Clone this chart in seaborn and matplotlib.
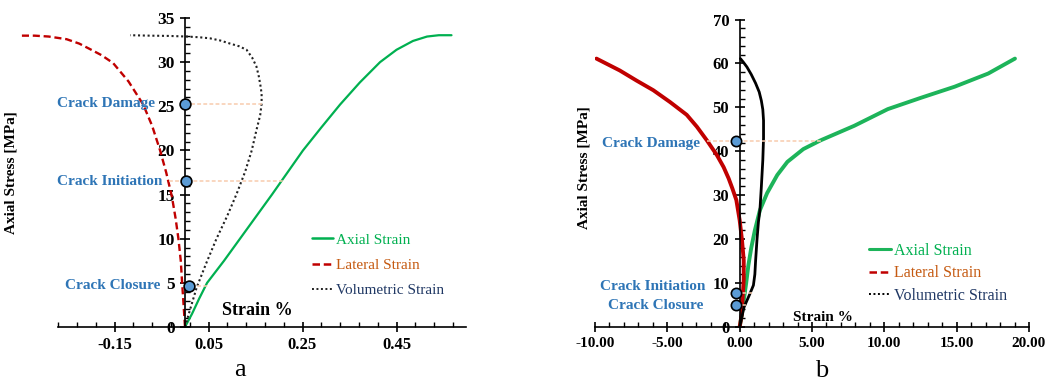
import matplotlib
matplotlib.use("Agg")
import matplotlib.pyplot as plt
from matplotlib.lines import Line2D
from matplotlib.ticker import FixedLocator, FormatStrFormatter
import numpy as np
import seaborn as sns

# ---- panel a : stress–strain curves (strain in %, stress in MPa) ----
a_axial_strain = [0, 0.015, 0.03, 0.047, 0.083, 0.117, 0.151, 0.185, 0.218, 0.251, 0.29,
                  0.33, 0.372, 0.415, 0.45, 0.485, 0.515, 0.54, 0.567]
a_axial_stress = [0, 1.5, 3.2, 5, 7.5, 10, 12.5, 15, 17.5, 20, 22.6,
                  25.2, 27.7, 30, 31.4, 32.4, 32.9, 33.05, 33.05]

a_lateral_strain = [-0.347, -0.32, -0.29, -0.252, -0.225, -0.203, -0.178, -0.153, -0.12,
                    -0.089, -0.07, -0.053, -0.04, -0.028, -0.02, -0.014, -0.009, -0.006,
                    -0.003, 0]
a_lateral_stress = [33.0, 33.0, 32.9, 32.6, 32.1, 31.5, 30.8, 29.9, 27.8,
                    25.2, 22.8, 20.0, 17.5, 14.8, 12.3, 10.0, 7.5, 4.9,
                    2.5, 0]

a_vol_strain = [0, 0.012, 0.025, 0.045, 0.067, 0.09, 0.11, 0.128, 0.142, 0.152, 0.16,
                0.163, 0.163, 0.161, 0.157, 0.152, 0.143, 0.131, 0.115, 0.096, 0.075,
                0.053, 0.03, 0.004, -0.035, -0.075, -0.117]
a_vol_stress = [0, 2.2, 4.5, 7.2, 10, 12.6, 15.1, 17.6, 20, 22.3, 24,
                25.3, 26.4, 27.2, 28.4, 29.5, 30.5, 31.4, 31.8, 32.1, 32.45,
                32.7, 32.82, 32.9, 32.97, 33.0, 33.05]

a_marker_names = ["Crack Damage", "Crack Initiation", "Crack Closure"]
a_marker_strain = [0.0, 0.002, 0.008]
a_marker_stress = [25.3, 16.5, 4.6]
a_guide_start = [0.0, -0.035, 0.0]
a_guide_end = [0.163, 0.21, 0.049]

a_xticks = [-0.15, 0.05, 0.25, 0.45]
a_yticks = [0, 5, 10, 15, 20, 25, 30, 35]

# ---- panel b ----
b_axial_strain = [0, 0.15, 0.3, 0.45, 0.6, 0.8, 1.05, 1.4, 1.9, 2.6, 3.3, 4.4, 5.6,
                  7.92, 10.24, 12.55, 14.86, 17.18, 19.03]
b_axial_stress = [0, 3, 6.5, 10, 14, 18, 22, 26.6, 30.5, 34.6, 37.6, 40.5, 42.5,
                  45.8, 49.6, 52.2, 54.7, 57.7, 61.1]

b_lateral_strain = [0, 0.15, 0.21, 0.28, 0.28, 0.16, 0, -0.23, -0.5, -0.76, -1.11, -1.57,
                    -2.27, -2.96, -3.66, -4.81, -5.97, -7.13, -8.29, -9.9]
b_lateral_stress = [0, 3, 6.9, 10.7, 15.2, 19.8, 24.3, 28.9, 31.5, 33.8, 36.4, 39.1,
                    42.5, 45.6, 48.3, 51.2, 53.9, 56.1, 58.4, 61.1]

b_vol_strain = [0, 0.1, 0.3, 0.7, 0.95, 1.05, 1.1, 1.2, 1.3, 1.4, 1.5, 1.6, 1.65,
                1.65, 1.6, 1.5, 1.35, 1.1, 0.8, 0.5, 0.25, 0.05]
b_vol_stress = [0, 1.5, 4.5, 7.5, 9.5, 12, 15, 20, 24, 26.6, 32, 38, 43,
                47, 49.5, 51.5, 53.5, 55.5, 57.5, 59.2, 60.3, 61.1]

b_marker_names = ["Crack Damage", "Crack Initiation", "Crack Closure"]
b_marker_strain = [-0.23, -0.23, -0.23]
b_marker_stress = [42.3, 7.8, 4.9]
b_guide_start = [-2.26, -0.23, -0.23]
b_guide_end = [5.6, 0.9, 0.5]

b_xticks = [-10, -5, 0, 5, 10, 15, 20]
b_yticks = [0, 10, 20, 30, 40, 50, 60, 70]

series_names = ["Axial Strain", "Lateral Strain", "Volumetric Strain"]

sns.set_theme(style="white")
plt.rcParams["font.family"] = ["Liberation Serif", "DejaVu Serif"]

GREEN = "#00B050"
RED = "#C00000"
BLUE_LBL = "#2E75B6"
MARK_FILL = "#5B9BD5"
GUIDE = "#F8CBAD"
LEG_COLORS = [GREEN, "#C55A11", "#203864"]

fig = plt.figure(figsize=(10.48, 3.81), dpi=100)
ax_a = fig.add_axes([20.5 / 1048, 54 / 381, 446.5 / 1048, 309 / 381])
ax_b = fig.add_axes([595 / 1048, 54 / 381, 434 / 1048, 307.5 / 381])


def style_axes(ax, xlim, ylim, xbounds, xticks, xminor, yticks, yminor, xfmt, xsize, ysize):
    ax.set_xlim(*xlim)
    ax.set_ylim(*ylim)
    for s in ("top", "right"):
        ax.spines[s].set_visible(False)
    ax.spines["left"].set_position(("data", 0))
    ax.spines["left"].set_bounds(ylim[0], ylim[1])
    ax.spines["bottom"].set_bounds(*xbounds)
    for s in ("left", "bottom"):
        ax.spines[s].set_color("black")
        ax.spines[s].set_linewidth(1.2)
    ax.xaxis.set_major_locator(FixedLocator(xticks))
    ax.xaxis.set_minor_locator(FixedLocator(xminor))
    ax.yaxis.set_major_locator(FixedLocator(yticks))
    ax.yaxis.set_minor_locator(FixedLocator(yminor))
    ax.xaxis.set_major_formatter(FormatStrFormatter(xfmt))
    ax.tick_params(which="major", direction="inout", length=7, width=1.2,
                   colors="black", pad=4)
    ax.tick_params(axis="x", which="major", labelsize=xsize)
    ax.tick_params(axis="y", which="major", labelsize=ysize)
    ax.tick_params(which="minor", direction="in", length=3.5, width=1.0, colors="black")
    ax.tick_params(axis="x", which="both", bottom=True)
    ax.tick_params(axis="y", which="both", left=True)
    for lbl in ax.get_xticklabels() + ax.get_yticklabels():
        lbl.set_fontweight("bold")
    ax.grid(False)
    ax.set_facecolor("white")


# ---------------- panel a ----------------
ax = ax_a
sns.lineplot(x=a_axial_strain, y=a_axial_stress, sort=False, estimator=None,
             color=GREEN, lw=1.6, ax=ax, legend=False)
sns.lineplot(x=a_lateral_strain, y=a_lateral_stress, sort=False, estimator=None,
             color=RED, lw=1.7, linestyle=(0, (3, 1.6)), ax=ax, legend=False)
sns.lineplot(x=a_vol_strain, y=a_vol_stress, sort=False, estimator=None,
             color="#222222", lw=1.5, linestyle=(0, (1, 1.3)), ax=ax, legend=False)
ax.hlines(a_marker_stress, a_guide_start, a_guide_end, colors=GUIDE,
          linestyles=(0, (2.5, 1.5)), lw=1.1, zorder=3)
sns.scatterplot(x=a_marker_strain, y=a_marker_stress, s=60, color=MARK_FILL,
                edgecolor="black", linewidth=1.2, ax=ax, zorder=6, legend=False)
style_axes(ax, (-0.35, 0.6), (0, 35), (-0.27, 0.598), a_xticks,
           np.arange(-0.27, 0.59, 0.04), a_yticks, np.arange(0, 35.1, 1), "%.2f",
           12, 12.5)

a_label_x = [-0.064, -0.049, -0.053]
a_label_y = [25.3, 16.5, 4.75]
for name, lx, ly in zip(a_marker_names, a_label_x, a_label_y):
    ax.text(lx, ly, name, ha="right", va="center", color=BLUE_LBL,
            fontsize=11, fontweight="bold", zorder=7)

ax.set_xlabel("Strain %", fontsize=13, fontweight="bold", color="black", va="center")
ax.xaxis.set_label_coords(0.53, 0.052)
ax.set_ylabel("Axial Stress [MPa]", fontsize=11, fontweight="bold", color="black")
ax.yaxis.set_label_coords(-0.006, 0.5)

handles_a = [Line2D([], [], color=GREEN, lw=1.8),
             Line2D([], [], color=RED, lw=1.8, linestyle=(0, (3, 1.5))),
             Line2D([], [], color="#222222", lw=1.4, linestyle=(0, (1, 1.3)))]
leg = ax.legend(handles_a, series_names, loc="upper left", bbox_to_anchor=(0.653, 0.304),
                frameon=False, fontsize=11, handlelength=1.4, handletextpad=0.15,
                labelspacing=0.75, borderpad=0, borderaxespad=0)
for t, c in zip(leg.get_texts(), LEG_COLORS):
    t.set_color(c)

# ---------------- panel b ----------------
ax = ax_b
sns.lineplot(x=b_axial_strain, y=b_axial_stress, sort=False, estimator=None,
             color="#1DB45A", lw=2.8, ax=ax, legend=False)
sns.lineplot(x=b_lateral_strain, y=b_lateral_stress, sort=False, estimator=None,
             color=RED, lw=2.8, ax=ax, legend=False)
sns.lineplot(x=b_vol_strain, y=b_vol_stress, sort=False, estimator=None,
             color="black", lw=2.0, ax=ax, legend=False)
ax.hlines(b_marker_stress, b_guide_start, b_guide_end, colors=GUIDE,
          linestyles=(0, (2.5, 1.5)), lw=1.1, zorder=3)
sns.scatterplot(x=b_marker_strain, y=b_marker_stress, s=55, color=MARK_FILL,
                edgecolor="black", linewidth=1.2, ax=ax, zorder=6, legend=False)
style_axes(ax, (-10, 20), (0, 70), (-10, 20), b_xticks,
           np.arange(-10, 20.1, 1), b_yticks, np.arange(0, 70.1, 2), "%.2f",
           11, 12)

b_label_x = [-2.73, -2.4, -2.5]
b_label_y = [41.8, 9.3, 4.8]
for name, lx, ly in zip(b_marker_names, b_label_x, b_label_y):
    ax.text(lx, ly, name, ha="right", va="center", color=BLUE_LBL,
            fontsize=11, fontweight="bold", zorder=7)

ax.set_xlabel("Strain %", fontsize=11, fontweight="bold", color="black", va="center")
ax.xaxis.set_label_coords(0.525, 0.03)
ax.set_ylabel("Axial Stress [MPa]", fontsize=11, fontweight="bold", color="black")
ax.yaxis.set_label_coords(-0.01, 0.517)

handles_b = [Line2D([], [], color="#1DB45A", lw=2.2),
             Line2D([], [], color=RED, lw=1.8, linestyle=(0, (3, 1.5))),
             Line2D([], [], color="black", lw=1.4, linestyle=(0, (1, 1.3)))]
leg = ax.legend(handles_b, series_names, loc="upper left", bbox_to_anchor=(0.631, 0.273),
                frameon=False, fontsize=11.5, handlelength=1.4, handletextpad=0.15,
                labelspacing=0.4, borderpad=0, borderaxespad=0)
for t, c in zip(leg.get_texts(), LEG_COLORS):
    t.set_color(c)

fig.text(0.229, 0.03, "a", fontsize=19, ha="center", va="center", color="black")
fig.text(0.784, 0.025, "b", fontsize=19, ha="center", va="center", color="black")

fig.savefig("out.png", dpi=100, facecolor="white")
